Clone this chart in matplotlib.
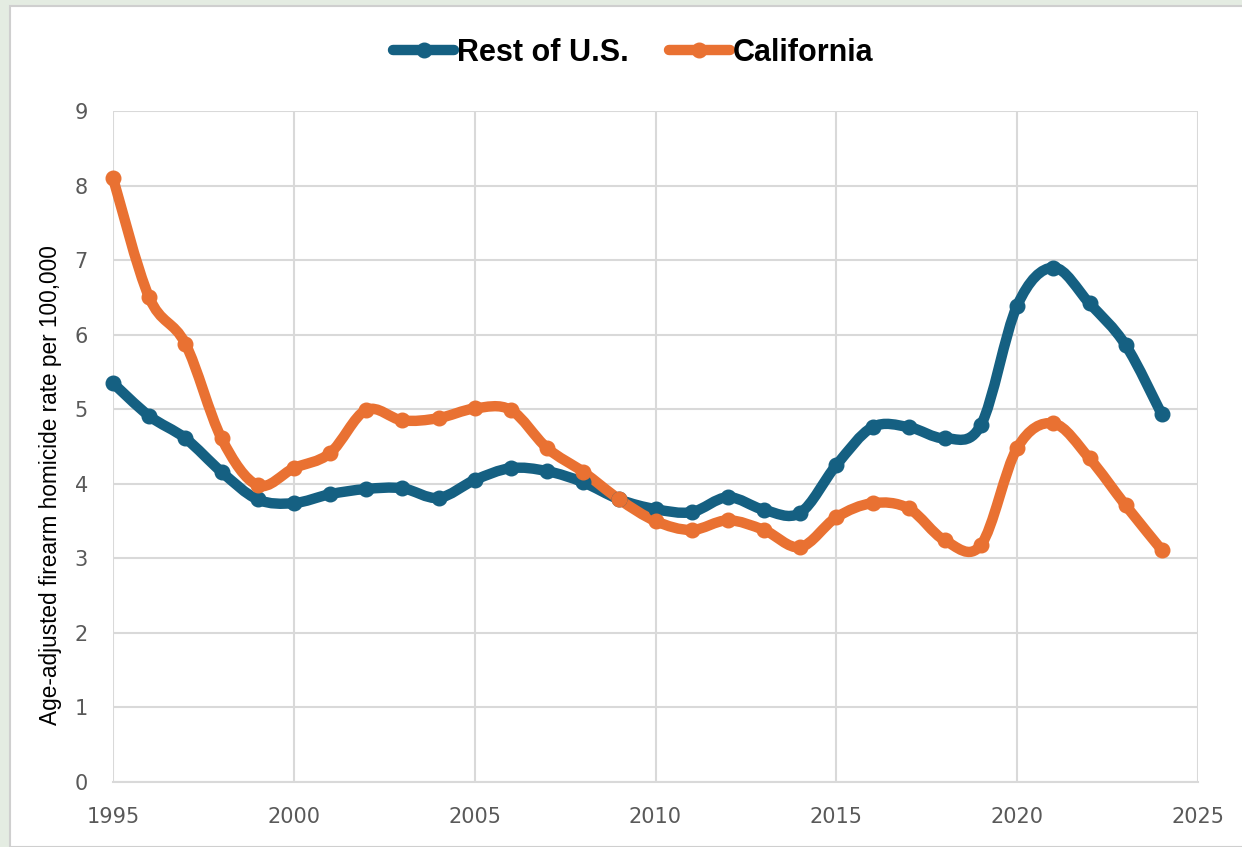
import matplotlib
matplotlib.use("Agg")
import matplotlib.pyplot as plt
from matplotlib.path import Path
from matplotlib.patches import PathPatch, Rectangle
from matplotlib.lines import Line2D

years = list(range(1995, 2025))

rest_of_us = [5.35, 4.91, 4.61, 4.16, 3.79, 3.74, 3.86, 3.93, 3.94, 3.81,
              4.05, 4.21, 4.17, 4.02, 3.79, 3.66, 3.62, 3.82, 3.65, 3.61,
              4.25, 4.76, 4.76, 4.61, 4.79, 6.39, 6.90, 6.42, 5.86, 4.93]

california = [8.10, 6.50, 5.88, 4.61, 3.98, 4.21, 4.41, 4.99, 4.85, 4.88,
              5.01, 4.99, 4.48, 4.16, 3.79, 3.50, 3.38, 3.51, 3.38, 3.15,
              3.55, 3.74, 3.67, 3.24, 3.18, 4.48, 4.81, 4.34, 3.71, 3.11]

series_names = ["Rest of U.S.", "California"]
colors = ["#156082", "#E97132"]

x_ticks = list(range(1995, 2026, 5))
y_ticks = list(range(0, 10))

narrow = ["Liberation Sans Narrow", "DejaVu Sans"]
plain = ["Liberation Sans", "DejaVu Sans"]


def smooth_path(xs, ys):
    # excel style smoothed line: cubic bezier through each point
    pts = list(zip(xs, ys))
    n = len(pts)
    verts = [pts[0]]
    codes = [Path.MOVETO]
    for i in range(n - 1):
        p0 = pts[i - 1] if i > 0 else pts[i]
        p1 = pts[i]
        p2 = pts[i + 1]
        p3 = pts[i + 2] if i + 2 < n else pts[i + 1]
        c1 = (p1[0] + (p2[0] - p0[0]) / 6, p1[1] + (p2[1] - p0[1]) / 6)
        c2 = (p2[0] - (p3[0] - p1[0]) / 6, p2[1] - (p3[1] - p1[1]) / 6)
        verts += [c1, c2, p2]
        codes += [Path.CURVE4] * 3
    return Path(verts, codes)


fig = plt.figure(figsize=(12.42, 8.47), dpi=100)
fig.patch.set_facecolor("#e4ece2")
bg = Rectangle((10 / 1242, 0), 1, 1 - 6 / 847, transform=fig.transFigure,
               facecolor="white", edgecolor="#cfcfcf", lw=1.5, zorder=-10)
fig.patches.append(bg)

ax = fig.add_axes([113 / 1242, 65 / 847, 1085 / 1242, 671 / 847])
ax.set_facecolor("none")

lw = 7.5
for vals, name, col in zip([rest_of_us, california], series_names, colors):
    patch = PathPatch(smooth_path(years, vals), fill=False, edgecolor=col, lw=lw,
                      capstyle="round", joinstyle="round", zorder=3, clip_on=False)
    ax.add_patch(patch)
    ax.plot(years, vals, "o", color=col, markersize=10.5, zorder=4, clip_on=False)

ax.set_xlim(1995, 2025)
ax.set_ylim(0, 9)
ax.set_xticks(x_ticks)
ax.set_yticks(y_ticks)
ax.grid(True, color="#d9d9d9", lw=1.5, zorder=0)
ax.set_axisbelow(True)
for s in ax.spines.values():
    s.set_visible(False)
ax.spines["bottom"].set_visible(True)
ax.spines["bottom"].set_color("#d9d9d9")
ax.spines["bottom"].set_linewidth(1.5)
ax.tick_params(length=0, labelsize=15, labelcolor="#595959", pad=18)
for lab in ax.get_xticklabels() + ax.get_yticklabels():
    lab.set_family(narrow)

ax.set_ylabel("Age-adjusted firearm homicide rate per 100,000", fontsize=16.3,
              color="black", family=plain)
ax.yaxis.set_label_coords(-0.047, 0.443)

handles = [Line2D([], [], color=c, lw=lw, marker="o", markersize=10.5,
                  solid_capstyle="round") for c in colors]
leg = fig.legend(handles, series_names, loc="center", bbox_to_anchor=(0.51, 0.938),
                 ncol=2, frameon=False, handlelength=2.0, handletextpad=0.1,
                 columnspacing=1.3, prop={"size": 22, "weight": "bold", "family": plain})

fig.savefig("out.png", dpi=100, facecolor=fig.get_facecolor())
